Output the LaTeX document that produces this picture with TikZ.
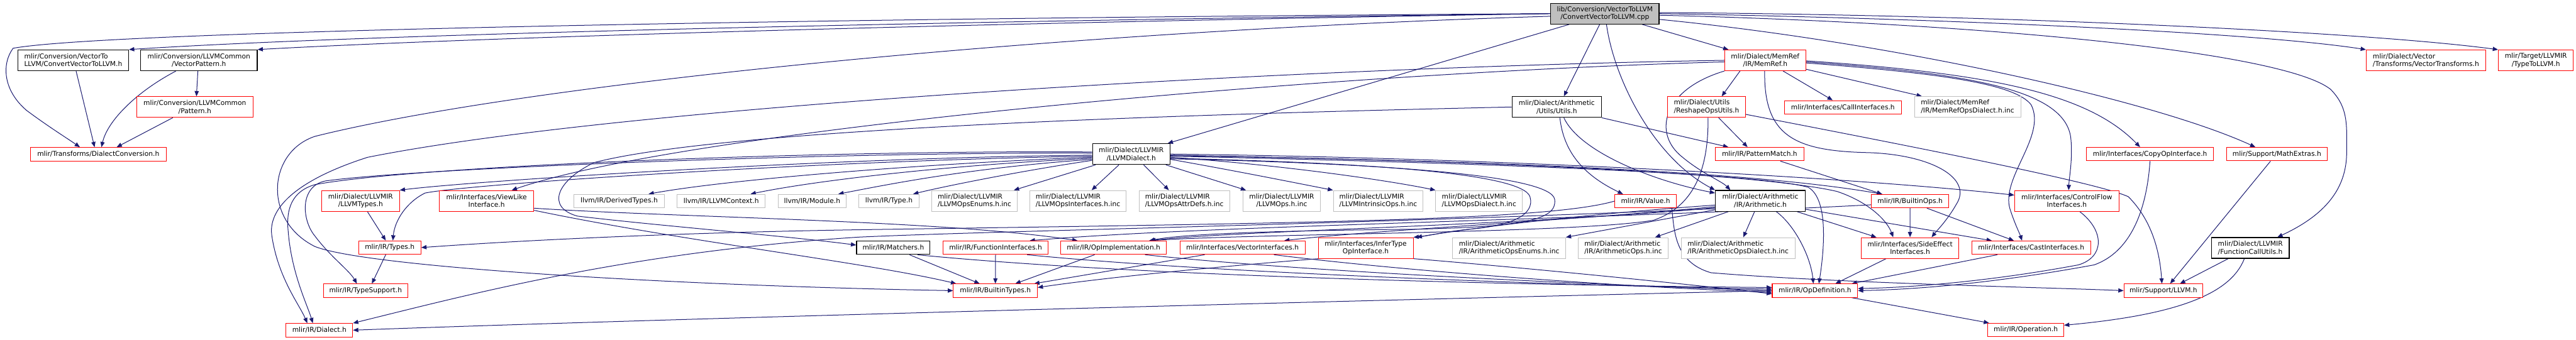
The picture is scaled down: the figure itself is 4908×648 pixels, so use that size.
\documentclass[tikz,border=0pt]{standalone}
\usepackage{fontspec}
\setmainfont{DejaVu Sans}
\usetikzlibrary{arrows.meta}
\pgfdeclarelayer{bg}
\pgfsetlayers{bg,main}
\definecolor{navy}{HTML}{191970}
\definecolor{dred}{HTML}{FF0000}
\definecolor{dgrey}{HTML}{BFBFBF}
\definecolor{rootgrey}{HTML}{BFBFBF}
\tikzset{
  nb/.style={draw, rectangle, inner sep=0pt, minimum height=25.6pt, align=center, fill=white,
    font=\fontsize{12.8pt}{15pt}\selectfont, line width=1.2pt},
  rnode/.style={nb, draw=dred},
  bnode/.style={nb, draw=black, line width=1.5pt},
  gnode/.style={nb, draw=dgrey},
  tall/.style={minimum height=39.6pt},
  lft/.style={align=left},
  dep/.style={draw=navy, line width=1.2pt, -{Triangle[length=10pt,width=8pt]}},
}
\begin{document}
\begin{tikzpicture}[x=1pt,y=-1pt]
\begin{pgfonlayer}{bg}
\fill[white] (0,0) rectangle (4908,648);
\end{pgfonlayer}
\useasboundingbox (0,0) rectangle (4908,648);

% ---------------- nodes
\node[bnode,tall,lft,minimum width=211pt] (cvh) at (139.5,115) {mlir/Conversion/VectorTo\\LLVM/ConvertVectorToLLVM.h};
\node[bnode,tall,minimum width=222pt] (vp) at (379,115) {mlir/Conversion/LLVMCommon\\/VectorPattern.h};
\node[rnode,tall,minimum width=222pt] (pat) at (371.25,204) {mlir/Conversion/LLVMCommon\\/Pattern.h};
\node[rnode,minimum width=259pt] (dc) at (187.25,294) {mlir/Transforms/DialectConversion.h};
\node[rnode,tall,minimum width=148pt] (llvmtypes) at (687,383) {mlir/Dialect/LLVMIR\\/LLVMTypes.h};
\node[rnode,minimum width=119pt] (types) at (742.5,472) {mlir/IR/Types.h};
\node[rnode,minimum width=161pt] (typesupport) at (696.5,554.25) {mlir/IR/TypeSupport.h};
\node[rnode,minimum width=127pt] (dialect) at (608.5,629.5) {mlir/IR/Dialect.h};
\node[rnode,tall,minimum width=180pt] (viewlike) at (927,383) {mlir/Interfaces/ViewLike\\Interface.h};
\node[gnode,minimum width=172pt] (derived) at (1179.65,383.3) {llvm/IR/DerivedTypes.h};
\node[gnode,minimum width=168pt] (llvmctx) at (1374,383.3) {llvm/IR/LLVMContext.h};
\node[gnode,minimum width=130pt] (module) at (1547.25,383.3) {llvm/IR/Module.h};
\node[gnode,minimum width=115pt] (type) at (1693.75,383.3) {llvm/IR/Type.h};
\node[gnode,tall,lft,minimum width=162pt] (opsenums) at (1856.7,383) {mlir/Dialect/LLVMIR\\/LLVMOpsEnums.h.inc};
\node[gnode,tall,lft,minimum width=184pt] (opsintf) at (2053.85,383) {mlir/Dialect/LLVMIR\\/LLVMOpsInterfaces.h.inc};
\node[gnode,tall,lft,minimum width=173pt] (opsattr) at (2256.5,383) {mlir/Dialect/LLVMIR\\/LLVMOpsAttrDefs.h.inc};
\node[gnode,tall,minimum width=148pt] (llvmops) at (2442,383) {mlir/Dialect/LLVMIR\\/LLVMOps.h.inc};
\node[bnode,tall,minimum width=147.5pt] (llvmdialect) at (2155.3,293.8) {mlir/Dialect/LLVMIR\\/LLVMDialect.h};
\node[bnode,minimum width=140pt] (matchers) at (1702,472.25) {mlir/IR/Matchers.h};
\node[rnode,minimum width=200pt] (funcif) at (1896.8,472.25) {mlir/IR/FunctionInterfaces.h};
\node[rnode,minimum width=202pt] (opimpl) at (2121.6,472.25) {mlir/IR/OpImplementation.h};
\node[rnode,minimum width=238.5pt] (vecif) at (2367.2,472.25) {mlir/Interfaces/VectorInterfaces.h};
\node[rnode,minimum width=160pt] (builtintypes) at (1896.45,554.15) {mlir/IR/BuiltinTypes.h};
\node[bnode,tall,fill=rootgrey,minimum width=206.6pt] (root) at (3057.75,26) {lib/Conversion/VectorToLLVM\\/ConvertVectorToLLVM.cpp};
\node[bnode,tall,minimum width=170.5pt] (arutils) at (2966,204) {mlir/Dialect/Arithmetic\\/Utils/Utils.h};
\node[rnode,tall,lft,minimum width=148pt] (reshape) at (3251.3,204) {mlir/Dialect/Utils\\/ReshapeOpsUtils.h};
\node[gnode,tall,lft,minimum width=171pt] (intrinsic) at (2625.8,383) {mlir/Dialect/LLVMIR\\/LLVMIntrinsicOps.h.inc};
\node[gnode,tall,lft,minimum width=165pt] (opsdialect) at (2818,383) {mlir/Dialect/LLVMIR\\/LLVMOpsDialect.h.inc};
\node[rnode,minimum width=117.6pt] (value) at (3135.2,383.5) {mlir/IR/Value.h};
\node[bnode,tall,minimum width=171pt] (arith) at (3353.85,383) {mlir/Dialect/Arithmetic\\/IR/Arithmetic.h};
\node[rnode,tall,minimum width=181pt] (infertype) at (2602,472.8) {mlir/Interfaces/InferType\\OpInterface.h};
\node[gnode,tall,lft,minimum width=215pt] (arenums) at (2875.3,472.8) {mlir/Dialect/Arithmetic\\/IR/ArithmeticOpsEnums.h.inc};
\node[gnode,tall,lft,minimum width=170.6pt] (arops) at (3092.65,472.8) {mlir/Dialect/Arithmetic\\/IR/ArithmeticOps.h.inc};
\node[gnode,tall,lft,minimum width=217pt] (ardialect) at (3311.5,472.8) {mlir/Dialect/Arithmetic\\/IR/ArithmeticOpsDialect.h.inc};
\node[rnode,tall,minimum width=154.3pt] (memref) at (3363.2,115) {mlir/Dialect/MemRef\\/IR/MemRef.h};
\node[rnode,minimum width=222.3pt] (callif) at (3511.2,204.55) {mlir/Interfaces/CallInterfaces.h};
\node[gnode,tall,lft,minimum width=202.4pt] (memrefdialect) at (3748.75,204) {mlir/Dialect/MemRef\\/IR/MemRefOpsDialect.h.inc};
\node[rnode,minimum width=168.4pt] (patternmatch) at (3352.5,293.8) {mlir/IR/PatternMatch.h};
\node[rnode,minimum width=242.7pt] (copyop) at (4096.35,293.8) {mlir/Interfaces/CopyOpInterface.h};
\node[rnode,minimum width=147.5pt] (builtinops) at (3639.2,383.5) {mlir/IR/BuiltinOps.h};
\node[rnode,tall,minimum width=198.8pt] (controlflow) at (3937.8,383) {mlir/Interfaces/ControlFlow\\Interfaces.h};
\node[rnode,tall,minimum width=186.3pt] (sideeffect) at (3639.15,472.8) {mlir/Interfaces/SideEffect\\Interfaces.h};
\node[rnode,minimum width=226.5pt] (castif) at (3870,472.25) {mlir/Interfaces/CastInterfaces.h};
\node[rnode,minimum width=162.7pt] (opdef) at (3457.95,554.15) {mlir/IR/OpDefinition.h};
\node[rnode,minimum width=150.2pt] (supportllvm) at (4121.7,554.15) {mlir/Support/LLVM.h};
\node[rnode,minimum width=144.8pt] (operation) at (3859.6,629.1) {mlir/IR/Operation.h};
\node[rnode,minimum width=191.4pt] (mathextras) at (4338,293.8) {mlir/Support/MathExtras.h};
\node[bnode,tall,lft,minimum width=148pt] (fcu) at (4287.5,472.8) {mlir/Dialect/LLVMIR\\/FunctionCallUtils.h};
\node[rnode,tall,lft,minimum width=227.4pt] (vectransforms) at (4622,115) {mlir/Dialect/Vector\\/Transforms/VectorTransforms.h};
\node[rnode,tall,minimum width=143pt] (typetollvm) at (4831.5,115) {mlir/Target/LLVMIR\\/TypeToLLVM.h};

% ---------------- edges
\begin{pgfonlayer}{bg}
% root
\draw[dep] (root.west) .. controls (1800,40) and (700,65) .. (cvh.north east);
\draw[dep] (root.west) .. controls (1800,45) and (900,72) .. (vp.north east);
\draw[dep] (root.west) .. controls (1500,35) and (200,60) .. (25,92) .. controls (4,120) and (4,170) .. (50,210) .. controls (90,240) and (130,265) .. ([xshift=-35]dc.north);
\draw[dep] ([xshift=-68]root.south) -- ([xshift=-5]llvmdialect.north east);
\draw[dep] ([xshift=-10]root.south) -- ([xshift=13.6]arutils.north);
\draw[dep] ([xshift=3]root.south) .. controls (3075,150) and (3150,300) .. (arith.north west);
\draw[dep] ([xshift=71]root.south) -- ([xshift=-70]memref.north);
\draw[dep] (root.east) .. controls (3700,35) and (4300,62) .. (vectransforms.north west);
\draw[dep] ([yshift=2]root.east) .. controls (3800,28) and (4500,60) .. (typetollvm.north west);
\draw[dep] ([yshift=-3]root.east) .. controls (3800,45) and (4350,100) .. (4440,170) .. controls (4475,205) and (4471,240) .. (4471,290) .. controls (4471,360) and (4430,410) .. ([xshift=51.5]fcu.north);
\draw[dep] ([yshift=-11]root.east) .. controls (3600,80) and (4100,190) .. ([xshift=-41]mathextras.north);
\draw[dep] ([yshift=-5]root.west) .. controls (2000,60) and (1000,160) .. (600,260) .. controls (510,290) and (500,420) .. (600,470) .. controls (700,510) and (1300,545) .. (builtintypes.west);
% conversion headers
\draw[dep] ([xshift=5.5]cvh.south) -- ([xshift=-7]dc.north);
\draw[dep] ([xshift=-44]vp.south) .. controls (260,175) and (205,230) .. ([xshift=6]dc.north);
\draw[dep] ([xshift=-2]vp.south) -- ([xshift=3]pat.north);
\draw[dep] ([xshift=-42]pat.south) -- ([xshift=35]dc.north);
% arithmetic utils
\draw[dep] ([xshift=13.6]arutils.south) .. controls (3010,290) and (3150,345) .. ([yshift=15]arith.west);
\draw[dep] ([xshift=6]arutils.south) .. controls (2980,300) and (3030,340) .. ([xshift=-43]value.north);
\draw[dep] (arutils.south east) -- ([xshift=-59.5]patternmatch.north);
\draw[dep] (arutils.west) .. controls (2400,215) and (1400,240) .. (1131.8,310) .. controls (1060,345) and (1040,395) .. (1100,412) .. controls (1250,430) and (1500,450) .. ([yshift=5]matchers.west);
% memref
\draw[dep] (memref.south west) .. controls (3170,170) and (3150,250) .. (3200,295) .. controls (3240,330) and (3280,345) .. ([xshift=-57]arith.north);
\draw[dep] ([xshift=-48]memref.south) -- ([xshift=29]reshape.north);
\draw[dep] ([xshift=34]memref.south) -- ([xshift=-19.5]callif.north);
\draw[dep] ([yshift=-17]memref.east) -- ([xshift=-87]memrefdialect.north);
\draw[dep] ([xshift=-1]memref.south) .. controls (3360,260) and (3420,288) .. (3560,291) .. controls (3680,295) and (3760,340) .. (3727,390) .. controls (3710,420) and (3690,440) .. ([xshift=41]sideeffect.north);
\draw[dep] ([yshift=-5]memref.east) .. controls (3700,140) and (3840,160) .. (3870,200) .. controls (3900,260) and (3810,340) .. (3830,400) .. controls (3840,430) and (3848,445) .. ([xshift=-17.5]castif.north);
\draw[dep] ([yshift=-3]memref.east) .. controls (3750,140) and (3930,170) .. (3945,260) .. controls (3950,300) and (3942,340) .. ([xshift=3.6]controlflow.north);
\draw[dep] ([yshift=-1]memref.east) .. controls (3800,140) and (3980,180) .. ([xshift=-19]copyop.north);
\draw[dep] (memref.west) .. controls (2500,128) and (1200,200) .. (700,300) .. controls (560,345) and (510,400) .. (518,450) .. controls (530,530) and (570,580) .. ([xshift=-23]dialect.north);
\draw[dep] ([yshift=-3]memref.west) .. controls (2500,140) and (1300,250) .. ([xshift=48]viewlike.north);
% reshape
\draw[dep] ([xshift=23]reshape.south) -- ([xshift=-23]patternmatch.north);
\draw[dep] ([yshift=-14]reshape.east) .. controls (3700,290) and (4000,350) .. (4055,375) .. controls (4100,420) and (4115,480) .. ([xshift=-2.7]supportllvm.north);
\draw[dep] ([xshift=3]reshape.south) .. controls (3255,300) and (3240,390) .. (3150,420) .. controls (3000,445) and (2400,445) .. ([xshift=68]opimpl.north);
% value
\draw[dep] (value.west) .. controls (2950,420) and (2500,425) .. (1638,438) .. controls (1200,445) and (900,465) .. (types.east);
\draw[dep] ([xshift=50]value.south) .. controls (3190,440) and (3190,500) .. (3260,520) .. controls (3500,540) and (3900,548) .. (supportllvm.west);
% llvm dialect, to the left
\draw[dep] ([yshift=-2]llvmdialect.west) .. controls (1600,300) and (900,345) .. (llvmtypes.north east);
\draw[dep] ([yshift=-4]llvmdialect.west) .. controls (1600,305) and (900,350) .. (810,368) .. controls (775,385) and (752,420) .. ([xshift=6]types.north);
\draw[dep] ([yshift=2]llvmdialect.west) .. controls (1600,290) and (800,320) .. (620,345) .. controls (570,355) and (575,420) .. (600,450) .. controls (630,490) and (665,515) .. ([xshift=-16.5]typesupport.north);
\draw[dep] ([yshift=4]llvmdialect.west) .. controls (1600,286) and (800,315) .. (600,352) .. controls (555,365) and (545,400) .. (549,440) .. controls (555,520) and (585,580) .. ([xshift=-12.5]dialect.north);
\draw[dep] ([yshift=-6]llvmdialect.west) .. controls (1800,310) and (1400,340) .. ([xshift=56]derived.north);
\draw[dep] ([yshift=-8]llvmdialect.west) .. controls (1800,315) and (1550,345) .. ([xshift=56]llvmctx.north);
\draw[dep] ([yshift=-10]llvmdialect.west) .. controls (1850,320) and (1700,350) .. ([xshift=50]module.north);
\draw[dep] ([yshift=-12]llvmdialect.west) .. controls (1950,325) and (1800,355) .. ([xshift=46]type.north);
\draw[dep] ([xshift=-68]llvmdialect.south) -- ([xshift=75]opsenums.north);
\draw[dep] ([xshift=-23.5]llvmdialect.south) -- ([xshift=26]opsintf.north);
\draw[dep] ([xshift=23.6]llvmdialect.south) -- ([xshift=-29.5]opsattr.north);
\draw[dep] ([xshift=66]llvmdialect.south) -- ([xshift=-68]llvmops.north);
% llvm dialect, to the right
\draw[dep] ([yshift=-10]llvmdialect.east) .. controls (2350,325) and (2450,345) .. (intrinsic.north west);
\draw[dep] ([yshift=-6]llvmdialect.east) .. controls (2450,315) and (2650,345) .. (opsdialect.north west);
\draw[dep] ([yshift=-2]llvmdialect.east) .. controls (2700,305) and (3300,320) .. ([xshift=-53]builtinops.north);
\draw[dep] (llvmdialect.east) .. controls (2800,300) and (3500,335) .. ([yshift=11]controlflow.west);
\draw[dep] ([yshift=-3]llvmdialect.east) .. controls (2800,305) and (3350,330) .. (3500,365) .. controls (3560,385) and (3595,420) .. ([xshift=-32]sideeffect.north);
\draw[dep] ([yshift=-4]llvmdialect.east) .. controls (2800,310) and (3350,330) .. (3445,357) .. controls (3485,380) and (3475,480) .. ([xshift=7.5]opdef.north);
\draw[dep] ([yshift=-8]llvmdialect.east) .. controls (2600,310) and (2900,330) .. (2915,375) .. controls (2925,410) and (2880,430) .. (2800,437) .. controls (2750,442) and (2720,450) .. (infertype.north east);
\draw[dep] ([yshift=-9]llvmdialect.east) .. controls (2650,312) and (2955,335) .. (2962,380) .. controls (2968,420) and (2900,432) .. (2700,437) .. controls (2400,440) and (2250,447) .. ([xshift=68]opimpl.north);
% types
\draw[dep] ([xshift=13]llvmtypes.south) -- ([xshift=-7.5]types.north);
\draw[dep] ([xshift=-7.5]types.south) -- ([xshift=12]typesupport.north);
% view like
\draw[dep] ([yshift=-14]viewlike.east) .. controls (1300,415) and (1800,420) .. ([xshift=-68.6]opimpl.north);
\draw[dep] ([yshift=-18]viewlike.east) .. controls (1300,460) and (1650,500) .. ([xshift=-74.7]builtintypes.north);
% row of IR headers
\draw[dep] ([xshift=31]matchers.south) -- ([xshift=-30]builtintypes.north);
\draw[dep] ([xshift=46]matchers.south) .. controls (2200,530) and (3000,545) .. ([yshift=6]opdef.west);
\draw[dep] (funcif.south) -- (builtintypes.north);
\draw[dep] ([xshift=60]funcif.south) .. controls (2300,520) and (3000,545) .. ([yshift=3]opdef.west);
\draw[dep] ([xshift=-36]opimpl.south) -- ([xshift=38]builtintypes.north);
\draw[dep] ([xshift=60]opimpl.south) .. controls (2500,520) and (3100,545) .. (opdef.west);
\draw[dep] ([xshift=-72]vecif.south) -- ([xshift=74]builtintypes.north);
\draw[dep] ([xshift=60]vecif.south) .. controls (2700,520) and (3150,550) .. ([yshift=-3]opdef.west);
\draw[dep] ([xshift=-90]infertype.south) .. controls (2300,510) and (2100,530) .. ([yshift=6]builtintypes.east);
\draw[dep] (infertype.south east) .. controls (2900,510) and (3200,540) .. ([yshift=-6]opdef.west);
% arithmetic
\draw[dep] ([yshift=-17]arith.west) -- (arenums.north east);
\draw[dep] ([xshift=-61]arith.south) -- ([xshift=60.7]arops.north);
\draw[dep] ([xshift=-11]arith.south) -- ([xshift=10]ardialect.north);
\draw[dep] ([xshift=70]arith.south) -- ([xshift=-64]sideeffect.north);
\draw[dep] ([yshift=-16]arith.east) -- ([xshift=-75]castif.north);
\draw[dep] ([xshift=30.5]arith.south) .. controls (3420,430) and (3450,490) .. ([xshift=-3]opdef.north);
\draw[dep] ([yshift=-8]arith.west) .. controls (3000,410) and (2800,435) .. ([xshift=6]infertype.north east);
\draw[dep] ([yshift=-11]arith.west) .. controls (3000,420) and (2600,440) .. ([xshift=79.5]vecif.north);
\draw[dep] ([yshift=-13]arith.west) .. controls (2900,430) and (2350,440) .. ([xshift=70]opimpl.north);
\draw[dep] ([yshift=-15]arith.west) .. controls (2500,430) and (1900,440) .. (1638,452) .. controls (1200,480) and (900,560) .. (dialect.north east);
% pattern match and builtin ops
\draw[dep] ([xshift=39.5]patternmatch.south) -- ([xshift=-53.2]builtinops.north);
\draw[dep] (builtinops.south) -- (sideeffect.north);
\draw[dep] ([xshift=32]builtinops.south) -- ([xshift=-33]castif.north);
\draw[dep] ([yshift=-7]builtinops.west) .. controls (3000,420) and (2300,430) .. ([xshift=65]funcif.north);
% interfaces to OpDefinition
\draw[dep] ([xshift=-45.5]sideeffect.south) -- ([xshift=39]opdef.north);
\draw[dep] ([xshift=-64.5]castif.south) -- ([xshift=70]opdef.north);
\draw[dep] ([xshift=24.6]controlflow.south) .. controls (4010,440) and (4010,490) .. (3960,505) .. controls (3800,535) and (3650,548) .. ([yshift=4]opdef.east);
\draw[dep] (copyop.south) .. controls (4090,400) and (4060,480) .. (3990,505) .. controls (3800,540) and (3650,552) .. (opdef.east);
\draw[dep] ([xshift=70]opdef.south) -- ([xshift=3]operation.north west);
\draw[dep] (opdef.west) .. controls (2500,575) and (1200,610) .. (dialect.east);
% support
\draw[dep] ([xshift=-42.5]fcu.south) -- ([xshift=31.7]supportllvm.north);
\draw[dep] ([xshift=-11.5]fcu.south) .. controls (4250,560) and (4150,600) .. ([yshift=9]operation.east);
\draw[dep] ([xshift=-12]mathextras.south) -- ([xshift=13]supportllvm.north);
\end{pgfonlayer}
\end{tikzpicture}
\end{document}
